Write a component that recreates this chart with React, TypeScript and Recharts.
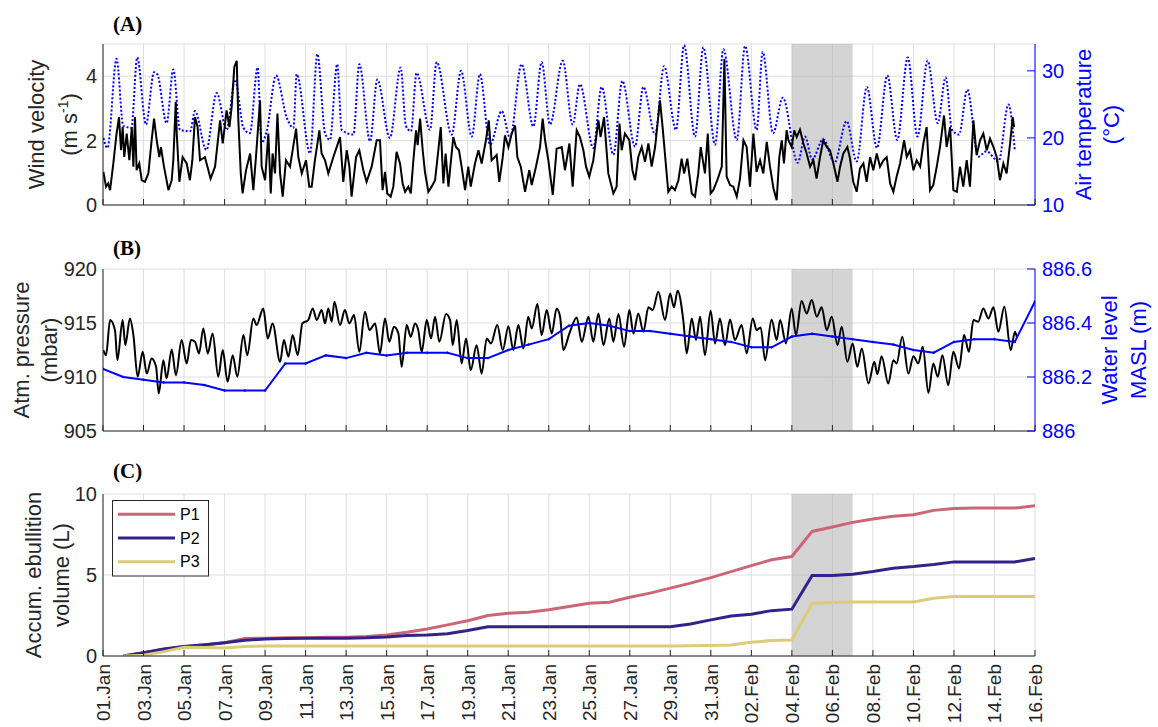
import React from 'react';
import { LineChart, Line, XAxis, YAxis, CartesianGrid, ReferenceArea } from 'recharts';

const FONT = '"Liberation Sans", Arial, Helvetica, sans-serif';
const SERIF = '"Liberation Serif", "Times New Roman", serif';
const AXIS = '#262626';
const GRID = '#dedede';
const BLUE = '#0000ff';

// x axis: days since 01.Jan
const dayTicks = [0, 2, 4, 6, 8, 10, 12, 14, 16, 18, 20, 22, 24, 26, 28, 30, 32, 34, 36, 38, 40, 42, 44, 46];
const dayLabels = ['01.Jan', '03.Jan', '05.Jan', '07.Jan', '09.Jan', '11.Jan', '13.Jan', '15.Jan', '17.Jan', '19.Jan', '21.Jan', '23.Jan', '25.Jan', '27.Jan', '29.Jan', '31.Jan', '02.Feb', '04.Feb', '06.Feb', '08.Feb', '10.Feb', '12.Feb', '14.Feb', '16.Feb'];
const shadeFrom = 34;
const shadeTo = 37;

// (A) wind velocity, m/s  [day, value]
const wind: [number, number][] = [
  [0.02, 1.03], [0.15, 0.57], [0.26, 0.67], [0.35, 0.46], [0.51, 1.29], [0.67, 2.22], [0.79, 2.73], [0.89, 1.7], [0.97, 2.42], [1.05, 1.49],
  [1.17, 2.22], [1.3, 1.39], [1.42, 2.42], [1.5, 1.19], [1.58, 2.73], [1.66, 1.08], [1.79, 1.29], [1.91, 0.77], [2.07, 0.72], [2.24, 0.98],
  [2.4, 2.01], [2.52, 2.68], [2.65, 2.01], [2.78, 1.49], [2.86, 1.8], [3.01, 1.19], [3.23, 0.46], [3.39, 0.77], [3.47, 1.39], [3.59, 3.2],
  [3.64, 2.22], [3.77, 0.72], [3.93, 1.49], [4.13, 1.29], [4.29, 0.77], [4.41, 1.39], [4.54, 2.73], [4.67, 2.42], [4.79, 1.39], [5.03, 1.49],
  [5.31, 0.82], [5.53, 1.19], [5.78, 2.63], [5.91, 1.91], [6.1, 2.94], [6.24, 2.42], [6.35, 3.04], [6.48, 4.28], [6.6, 4.48], [6.68, 2.63],
  [6.8, 0.98], [6.89, 0.36], [7.06, 1.08], [7.26, 1.6], [7.42, 0.46], [7.55, 1.49], [7.75, 3.25], [7.83, 1.19], [8.0, 0.77], [8.16, 2.22],
  [8.28, 0.36], [8.37, 1.6], [8.49, 0.98], [8.61, 2.84], [8.74, 0.98], [8.87, 0.26], [9.03, 1.39], [9.23, 1.19], [9.53, 2.37], [9.64, 1.49],
  [9.81, 0.98], [10.02, 1.39], [10.18, 0.57], [10.3, 0.57], [10.46, 1.39], [10.68, 2.32], [10.79, 1.6], [10.96, 1.39], [11.12, 0.98], [11.37, 1.49],
  [11.7, 2.11], [11.86, 0.72], [12.03, 1.7], [12.16, 1.19], [12.27, 0.26], [12.49, 1.49], [12.65, 1.7], [12.85, 1.08], [13.01, 0.72], [13.26, 1.19],
  [13.51, 2.01], [13.67, 2.01], [13.8, 0.46], [13.92, 1.03], [14.03, 0.36], [14.2, 0.26], [14.33, 0.57], [14.49, 1.65], [14.66, 1.29], [14.79, 0.67],
  [14.91, 0.41], [15.07, 0.57], [15.19, 0.36], [15.32, 1.39], [15.45, 2.32], [15.53, 1.86], [15.65, 2.68], [15.78, 1.7], [15.89, 1.03], [16.06, 0.41],
  [16.22, 0.57], [16.39, 0.77], [16.55, 1.7], [16.67, 2.42], [16.8, 0.67], [16.91, 1.6], [17.05, 0.57], [17.16, 1.29], [17.29, 2.11], [17.42, 1.8],
  [17.57, 1.7], [17.7, 1.19], [17.87, 0.46], [18.03, 1.19], [18.15, 0.57], [18.36, 1.29], [18.53, 1.7], [18.69, 1.29], [18.9, 2.01], [19.04, 2.63],
  [19.18, 1.39], [19.43, 1.55], [19.56, 0.72], [19.73, 1.49], [19.84, 2.16], [20.01, 1.8], [20.17, 2.22], [20.34, 2.47], [20.45, 1.49], [20.62, 1.19],
  [20.83, 0.41], [21.04, 1.08], [21.16, 0.62], [21.37, 1.19], [21.57, 1.8], [21.7, 2.68], [21.82, 2.01], [21.98, 1.39], [22.2, 0.31], [22.39, 1.75],
  [22.64, 1.8], [22.8, 1.08], [23.02, 1.91], [23.18, 0.57], [23.38, 2.32], [23.54, 2.11], [23.71, 1.7], [23.84, 1.19], [24.0, 0.88], [24.2, 1.39],
  [24.45, 2.63], [24.56, 2.11], [24.73, 2.73], [24.94, 0.98], [25.19, 0.36], [25.35, 0.57], [25.49, 2.53], [25.6, 1.7], [25.76, 2.22], [25.98, 2.01],
  [26.13, 1.08], [26.26, 0.77], [26.42, 1.49], [26.59, 1.8], [26.75, 1.34], [26.92, 1.91], [27.08, 1.19], [27.25, 1.8], [27.49, 3.25], [27.62, 2.42],
  [27.79, 1.19], [27.9, 0.41], [28.07, 0.57], [28.23, 0.46], [28.4, 0.77], [28.56, 1.44], [28.68, 0.98], [28.84, 1.44], [29.06, 0.36], [29.22, 0.26],
  [29.38, 0.98], [29.5, 1.8], [29.71, 0.98], [29.85, 2.22], [29.99, 0.36], [30.12, 0.46], [30.32, 0.77], [30.54, 1.19], [30.67, 4.54], [30.78, 0.88],
  [30.95, 0.62], [31.11, 0.57], [31.28, 0.26], [31.44, 0.82], [31.61, 2.01], [31.77, 1.8], [31.93, 0.57], [32.1, 2.22], [32.26, 1.03], [32.43, 1.39],
  [32.59, 0.98], [32.76, 1.96], [32.92, 1.19], [33.09, 0.52], [33.25, 0.15], [33.38, 1.49], [33.5, 2.01], [33.61, 1.29], [33.74, 2.32], [33.83, 2.01],
  [33.99, 1.8], [34.12, 2.32], [34.24, 2.11], [34.4, 2.34], [34.57, 1.91], [34.73, 1.6], [34.9, 1.19], [35.06, 1.39], [35.22, 0.82], [35.39, 1.49],
  [35.55, 2.01], [35.72, 1.8], [35.88, 1.7], [36.05, 1.29], [36.25, 0.72], [36.38, 1.19], [36.54, 1.6], [36.74, 1.8], [36.87, 1.44], [37.03, 0.72],
  [37.2, 0.41], [37.36, 1.13], [37.53, 1.29], [37.69, 0.72], [37.86, 1.49], [38.02, 1.08], [38.19, 1.6], [38.35, 1.19], [38.52, 1.39], [38.68, 1.49],
  [38.85, 0.67], [39.01, 0.41], [39.17, 0.88], [39.34, 1.29], [39.54, 2.01], [39.67, 1.49], [39.83, 1.7], [40.0, 1.08], [40.16, 1.39], [40.33, 1.19],
  [40.49, 1.91], [40.65, 2.42], [40.82, 0.46], [40.98, 0.62], [41.15, 1.19], [41.31, 1.8], [41.51, 2.78], [41.64, 1.8], [41.81, 2.42], [41.97, 0.46],
  [42.14, 0.41], [42.3, 1.19], [42.46, 0.57], [42.63, 1.39], [42.79, 0.57], [42.96, 2.63], [43.12, 1.55], [43.29, 2.01], [43.45, 2.22], [43.62, 1.7],
  [43.78, 2.06], [43.95, 1.8], [44.11, 1.49], [44.27, 0.77], [44.44, 1.29], [44.6, 0.98], [44.77, 1.91], [44.9, 2.73], [44.97, 2.42],
];

// (A) air temperature, °C  [day, value]
const airTemp: [number, number][] = [
  [0.02, 20.0], [0.22, 18.5], [0.67, 31.8], [1.0, 21.8], [1.4, 21.5], [1.69, 32.0], [2.12, 22.0], [2.52, 29.8], [2.68, 29.5], [3.14, 22.2],
  [3.47, 30.2], [3.8, 21.2], [4.3, 21.0], [4.54, 24.0], [5.1, 18.2], [5.61, 26.7], [6.1, 21.2], [6.52, 28.7], [6.93, 21.5], [7.25, 20.7],
  [7.63, 30.5], [7.83, 19.3], [8.08, 21.0], [8.54, 29.3], [9.07, 23.0], [9.4, 21.5], [9.56, 29.5], [10.22, 17.7], [10.58, 32.5], [10.96, 20.7],
  [11.2, 19.7], [11.56, 31.0], [11.78, 21.2], [12.36, 20.5], [12.65, 31.0], [13.18, 19.5], [13.54, 28.7], [14.16, 20.0], [14.69, 30.5], [14.95, 21.8],
  [15.2, 21.0], [15.48, 29.7], [16.14, 21.2], [16.47, 31.3], [17.21, 20.5], [17.67, 30.0], [18.2, 20.2], [18.6, 29.5], [19.1, 19.0], [19.68, 24.0],
  [20.09, 20.0], [20.66, 31.0], [21.24, 21.7], [21.65, 31.3], [22.06, 22.0], [22.69, 31.5], [23.18, 22.0], [23.54, 28.0], [24.2, 18.5], [24.61, 27.6],
  [25.19, 17.5], [25.63, 28.5], [26.26, 18.7], [26.67, 27.6], [27.25, 20.5], [27.69, 30.7], [28.28, 21.2], [28.68, 33.8], [29.22, 20.2], [29.63, 33.5],
  [30.21, 19.0], [30.62, 33.2], [31.28, 19.7], [31.69, 33.7], [32.26, 21.2], [32.56, 32.8], [33.07, 20.7], [33.55, 26.0], [34.29, 16.3], [34.65, 20.2],
  [35.0, 16.8], [35.55, 19.8], [36.1, 16.3], [36.7, 22.5], [37.2, 16.5], [37.7, 27.6], [38.2, 18.5], [38.71, 29.3], [39.2, 19.7], [39.72, 32.0],
  [40.2, 20.2], [40.7, 31.5], [41.2, 22.2], [41.59, 29.0], [41.9, 21.2], [42.25, 20.5], [42.66, 27.2], [43.2, 17.2], [43.6, 18.0], [44.2, 16.5],
  [44.69, 25.0], [45.0, 18.2],
];

// (B) atmospheric pressure, mbar  [day, value]
const pressure: [number, number][] = [
  [0.02, 912.49], [0.15, 912.02], [0.35, 915.27], [0.59, 914.34], [0.71, 911.56], [0.97, 915.27], [1.1, 912.95], [1.33, 915.42], [1.5, 913.88], [1.71, 910.02],
  [1.96, 912.33], [2.16, 910.32], [2.4, 911.72], [2.62, 910.94], [2.75, 908.47], [2.98, 911.56], [3.14, 909.86], [3.39, 912.55], [3.6, 910.17], [3.88, 913.42],
  [4.13, 911.25], [4.34, 913.42], [4.54, 913.26], [4.74, 912.18], [4.95, 914.5], [5.17, 912.18], [5.41, 914.03], [5.69, 910.02], [5.91, 912.49], [6.15, 909.55],
  [6.4, 912.02], [6.63, 910.02], [6.93, 913.88], [7.12, 912.02], [7.42, 915.42], [7.58, 914.81], [7.91, 916.35], [8.13, 913.57], [8.37, 914.96], [8.74, 911.41],
  [8.93, 913.42], [9.15, 911.87], [9.36, 913.88], [9.61, 912.02], [9.84, 914.96], [10.13, 915.27], [10.35, 916.35], [10.55, 915.27], [10.79, 916.2], [10.96, 914.96],
  [11.12, 916.35], [11.29, 915.12], [11.42, 916.97], [11.7, 914.81], [11.94, 916.2], [12.16, 914.96], [12.39, 915.73], [12.65, 912.33], [12.93, 916.04], [13.15, 914.34],
  [13.43, 914.96], [13.67, 912.18], [13.92, 915.42], [14.13, 913.26], [14.36, 914.65], [14.58, 914.03], [14.74, 910.94], [14.99, 914.81], [15.19, 913.72], [15.4, 914.96],
  [15.56, 914.34], [15.73, 912.33], [15.98, 915.27], [16.19, 913.57], [16.39, 915.58], [16.6, 913.26], [16.93, 915.83], [17.13, 915.27], [17.26, 912.95], [17.46, 915.27],
  [17.7, 911.25], [17.92, 913.57], [18.15, 910.63], [18.44, 912.95], [18.69, 910.32], [18.94, 913.57], [19.15, 913.11], [19.46, 914.81], [19.73, 912.49], [20.01, 914.71],
  [20.25, 912.49], [20.5, 914.81], [20.75, 912.64], [20.99, 915.58], [21.16, 914.5], [21.44, 916.75], [21.65, 913.88], [21.9, 916.2], [22.15, 914.03], [22.39, 916.35],
  [22.56, 915.58], [22.72, 912.49], [23.02, 914.03], [23.38, 915.52], [23.63, 913.26], [23.96, 915.58], [24.2, 913.26], [24.45, 915.89], [24.7, 912.95], [24.99, 915.42],
  [25.19, 913.26], [25.44, 915.83], [25.72, 912.8], [25.98, 916.2], [26.18, 914.03], [26.42, 915.89], [26.67, 914.19], [26.92, 916.45], [27.13, 916.2], [27.41, 917.9],
  [27.74, 915.27], [27.99, 917.74], [28.18, 916.45], [28.36, 917.99], [28.64, 915.27], [28.81, 912.18], [29.06, 915.42], [29.27, 913.42], [29.47, 915.58], [29.71, 912.02],
  [29.99, 916.14], [30.21, 913.11], [30.45, 915.42], [30.7, 912.95], [30.95, 915.33], [31.19, 913.42], [31.52, 914.81], [31.77, 912.18], [32.07, 915.42], [32.26, 914.34],
  [32.46, 914.59], [32.68, 911.56], [33.0, 915.33], [33.25, 913.42], [33.42, 915.27], [33.71, 913.11], [33.99, 916.35], [34.2, 913.88], [34.48, 917.03], [34.73, 915.89],
  [34.98, 917.13], [35.23, 915.58], [35.47, 916.45], [35.72, 914.34], [35.97, 915.58], [36.25, 912.95], [36.46, 914.65], [36.74, 911.41], [37.0, 913.11], [37.23, 910.94],
  [37.45, 912.64], [37.78, 909.4], [38.07, 911.41], [38.22, 910.26], [38.43, 911.93], [38.76, 909.4], [39.01, 911.56], [39.17, 911.25], [39.45, 913.72], [39.75, 910.32],
  [40.0, 911.93], [40.24, 911.25], [40.46, 912.8], [40.74, 908.53], [40.98, 911.25], [41.2, 910.02], [41.43, 912.02], [41.72, 909.24], [41.97, 912.33], [42.25, 910.79],
  [42.5, 913.88], [42.74, 912.33], [42.96, 915.27], [43.2, 915.12], [43.45, 916.35], [43.7, 915.42], [43.95, 916.45], [44.19, 914.19], [44.49, 916.51], [44.8, 912.49],
  [45.01, 914.19], [45.1, 913.72],
];

// (B) water level, m a.s.l., one value per day (day 0..46)
const levelDays = Array.from({ length: 47 }, (_, i) => i);
const waterLevel = [
  886.23, 886.2, 886.19, 886.18, 886.18, 886.17, 886.15, 886.15, 886.15, 886.25,
  886.25, 886.28, 886.27, 886.29, 886.28, 886.29, 886.29, 886.29, 886.27, 886.27,
  886.3, 886.32, 886.34, 886.39, 886.4, 886.39, 886.37, 886.37, 886.36, 886.35,
  886.34, 886.33, 886.31, 886.31, 886.35, 886.36, 886.35, 886.34, 886.33, 886.32,
  886.3, 886.29, 886.33, 886.34, 886.34, 886.33, 886.48,
];

// (C) accumulated ebullition volume, L, one value per day (day 1..46)
const ebullDays = Array.from({ length: 46 }, (_, i) => i + 1);
const p1Volume = [
  0, 0.2, 0.42, 0.58, 0.68, 0.82, 1.08, 1.1, 1.12, 1.13, 1.15, 1.16, 1.2, 1.3, 1.47, 1.67,
  1.92, 2.18, 2.5, 2.64, 2.7, 2.85, 3.05, 3.26, 3.32, 3.63, 3.88, 4.19, 4.5, 4.84,
  5.21, 5.58, 5.94, 6.14, 7.69, 7.96, 8.25, 8.46, 8.62, 8.72, 8.99, 9.11, 9.13, 9.13, 9.13, 9.28,
];
const p2Volume = [
  0, 0.2, 0.43, 0.58, 0.69, 0.82, 0.97, 1.05, 1.08, 1.1, 1.1, 1.1, 1.12, 1.18, 1.27, 1.3,
  1.37, 1.57, 1.81, 1.81, 1.81, 1.81, 1.81, 1.81, 1.81, 1.81, 1.81, 1.81, 1.98, 2.23,
  2.47, 2.58, 2.8, 2.89, 4.97, 4.97, 5.05, 5.21, 5.42, 5.52, 5.65, 5.81, 5.81, 5.81, 5.81, 6.02,
];
const p3Volume = [
  0, 0.05, 0.27, 0.54, 0.52, 0.5, 0.58, 0.62, 0.62, 0.62, 0.62, 0.62, 0.62, 0.62, 0.62, 0.62,
  0.62, 0.62, 0.62, 0.62, 0.62, 0.62, 0.62, 0.62, 0.62, 0.62, 0.62, 0.62, 0.64, 0.65,
  0.68, 0.85, 0.95, 0.99, 3.26, 3.3, 3.34, 3.34, 3.34, 3.34, 3.57, 3.67, 3.67, 3.67, 3.67, 3.67,
];
const seriesNames = ['P1', 'P2', 'P3'];
const seriesColors = ['#cc6677', '#332288', '#ddcc77'];

const toRows = (pairs: [number, number][]) => pairs.map(([day, v]) => ({ day, v }));
const windRows = toRows(wind);
const tempRows = toRows(airTemp);
const pressureRows = toRows(pressure);
const levelRows = levelDays.map((day, i) => ({ day, v: waterLevel[i] }));
const ebullRows = ebullDays.map((day, i) => ({ day, p1: p1Volume[i], p2: p2Volume[i], p3: p3Volume[i] }));

const InTick = (props: any) => {
  const { x, y } = props;
  return <line x1={x} x2={x} y1={y} y2={y - 6} stroke={AXIS} />;
};

const DateTick = (props: any) => {
  const { x, y, payload } = props;
  const label = dayLabels[dayTicks.indexOf(payload.value)];
  const tx = x + 7;
  const ty = y + 8;
  return (
    <g>
      <line x1={x} x2={x} y1={y} y2={y - 6} stroke={AXIS} />
      <text x={tx} y={ty} transform={`rotate(-90 ${tx} ${ty})`} textAnchor="end" fontSize={19} fill={AXIS} fontFamily={FONT}>
        {label}
      </text>
    </g>
  );
};

const RightTick = (props: any) => {
  const { x, y, payload } = props;
  return (
    <g>
      <line x1={x} x2={x - 8} y1={y} y2={y} stroke={BLUE} />
      <text x={x + 7} y={y} dy="0.36em" fontSize={20} fill={BLUE} fontFamily={FONT}>
        {payload.value}
      </text>
    </g>
  );
};

const leftTick = { fill: AXIS, fontSize: 20, fontFamily: FONT };

const xAxisFor = (height: number, tick: any) => (
  <XAxis
    type="number"
    dataKey="day"
    domain={[0, 46]}
    ticks={dayTicks}
    interval={0}
    height={height}
    tickSize={0}
    tickMargin={0}
    tick={tick}
    stroke={AXIS}
    allowDataOverflow
  />
);

const App = () => {
  return (
    <div style={{ position: 'absolute', left: 0, top: 0, width: 1158, height: 727, background: '#fff', fontFamily: FONT }}>
      <div style={{ position: 'absolute', left: 0, top: 0 }}>
        <LineChart width={1158} height={215} margin={{ top: 44, right: 63, bottom: 0, left: 43 }}>
          <CartesianGrid yAxisId="l" stroke={GRID} />
          {xAxisFor(10, (p: any) => <InTick {...p} />)}
          <YAxis yAxisId="l" domain={[0, 5]} ticks={[0, 2, 4]} interval={0} width={60} tickSize={0} tickMargin={6} stroke={AXIS} tick={leftTick} allowDataOverflow />
          <YAxis yAxisId="r" orientation="right" domain={[10, 34]} ticks={[10, 20, 30]} interval={0} width={60} tickSize={0} tickMargin={0} stroke={BLUE} tick={(p: any) => <RightTick {...p} />} allowDataOverflow />
          <ReferenceArea yAxisId="l" x1={shadeFrom} x2={shadeTo} fill="#b0b0b0" fillOpacity={0.55} stroke="none" />
          <Line data={tempRows} dataKey="v" yAxisId="r" type="monotone" stroke={BLUE} strokeWidth={2} strokeDasharray="2 2" dot={false} activeDot={false} isAnimationActive={false} />
          <Line data={windRows} dataKey="v" yAxisId="l" type="linear" stroke="#000" strokeWidth={2} dot={false} activeDot={false} isAnimationActive={false} />
        </LineChart>
      </div>

      <div style={{ position: 'absolute', left: 0, top: 220 }}>
        <LineChart width={1158} height={221} margin={{ top: 49, right: 63, bottom: 0, left: 43 }}>
          <CartesianGrid yAxisId="l" stroke={GRID} />
          {xAxisFor(10, (p: any) => <InTick {...p} />)}
          <YAxis yAxisId="l" domain={[905, 920]} ticks={[905, 910, 915, 920]} interval={0} width={60} tickSize={0} tickMargin={6} stroke={AXIS} tick={leftTick} allowDataOverflow />
          <YAxis yAxisId="r" orientation="right" domain={[886, 886.6]} ticks={[886, 886.2, 886.4, 886.6]} interval={0} width={60} tickSize={0} tickMargin={0} stroke={BLUE} tick={(p: any) => <RightTick {...p} />} allowDataOverflow />
          <ReferenceArea yAxisId="l" x1={shadeFrom} x2={shadeTo} fill="#b0b0b0" fillOpacity={0.55} stroke="none" />
          <Line data={pressureRows} dataKey="v" yAxisId="l" type="monotone" stroke="#000" strokeWidth={2} dot={false} activeDot={false} isAnimationActive={false} />
          <Line data={levelRows} dataKey="v" yAxisId="r" type="linear" stroke={BLUE} strokeWidth={2} dot={{ r: 1, fill: BLUE, stroke: BLUE, strokeWidth: 0.5 }} activeDot={false} isAnimationActive={false} />
        </LineChart>
      </div>

      <div style={{ position: 'absolute', left: 0, top: 450 }}>
        <LineChart width={1158} height={277} data={ebullRows} margin={{ top: 44, right: 123, bottom: 0, left: 43 }}>
          <CartesianGrid yAxisId="l" stroke={GRID} />
          {xAxisFor(71, (p: any) => <DateTick {...p} />)}
          <YAxis yAxisId="l" domain={[0, 10]} ticks={[0, 5, 10]} interval={0} width={60} tickSize={0} tickMargin={6} stroke={AXIS} tick={leftTick} allowDataOverflow />
          <ReferenceArea yAxisId="l" x1={shadeFrom} x2={shadeTo} fill="#b0b0b0" fillOpacity={0.55} stroke="none" />
          {['p1', 'p2', 'p3'].map((k, i) => (
            <Line key={k} dataKey={k} name={seriesNames[i]} yAxisId="l" type="linear" stroke={seriesColors[i]} strokeWidth={3} dot={false} activeDot={false} isAnimationActive={false} />
          ))}
        </LineChart>
      </div>

      <svg width={1158} height={727} style={{ position: 'absolute', left: 0, top: 0, pointerEvents: 'none' }}>
        <g fontFamily={SERIF} fontWeight="bold" fontSize={21} fill="#000">
          <text x={113} y={31}>(A)</text>
          <text x={113} y={255}>(B)</text>
          <text x={113} y={478}>(C)</text>
        </g>
        <g fontFamily={FONT} fontSize={22} textAnchor="middle">
          <text x={44} y={124.5} transform="rotate(-90 44 124.5)" fill={AXIS}>Wind velocity</text>
          <text x={77} y={124.5} transform="rotate(-90 77 124.5)" fill={AXIS}>
            (m s<tspan fontSize={14} dy={-9}>-1</tspan><tspan dy={9}>)</tspan>
          </text>
          <text x={1091} y={124.5} transform="rotate(-90 1091 124.5)" fill={BLUE}>Air temperature</text>
          <text x={1119} y={124.5} transform="rotate(-90 1119 124.5)" fill={BLUE}>(°C)</text>

          <text x={29} y={350} transform="rotate(-90 29 350)" fill={AXIS}>Atm. pressure</text>
          <text x={57} y={350} transform="rotate(-90 57 350)" fill={AXIS}>(mbar)</text>
          <text x={1117} y={350} transform="rotate(-90 1117 350)" fill={BLUE}>Water level</text>
          <text x={1146} y={350} transform="rotate(-90 1146 350)" fill={BLUE}>MASL (m)</text>

          <text x={41} y={575} transform="rotate(-90 41 575)" fill={AXIS}>Accum. ebullition</text>
          <text x={69} y={575} transform="rotate(-90 69 575)" fill={AXIS}>volume (L)</text>
        </g>
        <g>
          <rect x={112.5} y={500.5} width={96} height={75.5} fill="#fff" stroke={AXIS} strokeWidth={1} />
          {seriesNames.map((n, i) => {
            const yy = 514.3 + i * 23.7;
            return (
              <g key={n}>
                <line x1={118} x2={175} y1={yy} y2={yy} stroke={seriesColors[i]} strokeWidth={3} />
                <text x={180} y={yy} dy="0.36em" fontSize={16} fontFamily={FONT} fill="#000">{n}</text>
              </g>
            );
          })}
        </g>
      </svg>
    </div>
  );
};

export default App;
